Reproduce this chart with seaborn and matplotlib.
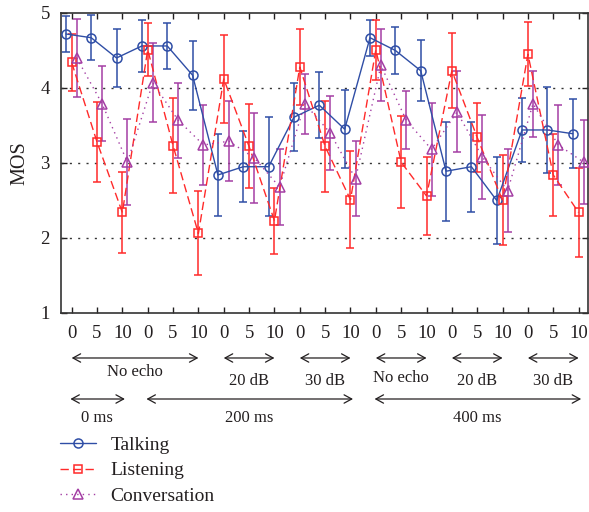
import numpy as np
import pandas as pd
import matplotlib
matplotlib.use('Agg')
import matplotlib.pyplot as plt
import matplotlib.transforms as mtransforms
import seaborn as sns

# MOS per test condition (21 conditions: 7 groups x {0, 5, 10})
talking = [4.72, 4.67, 4.40, 4.56, 4.56, 4.17, 2.84, 2.95, 2.95, 3.61, 3.77,
           3.45, 4.67, 4.50, 4.23, 2.89, 2.95, 2.50, 3.44, 3.44, 3.39]
talking_err = [0.24, 0.30, 0.39, 0.35, 0.31, 0.46, 0.55, 0.47, 0.66, 0.45, 0.44,
               0.52, 0.24, 0.31, 0.41, 0.66, 0.60, 0.58, 0.43, 0.57, 0.46]
listening = [4.34, 3.28, 2.34, 4.51, 3.23, 2.06, 4.12, 3.22, 2.23, 4.28, 3.22,
             2.51, 4.51, 3.01, 2.56, 4.23, 3.34, 2.50, 4.45, 2.84, 2.34]
listening_err = [0.38, 0.53, 0.54, 0.35, 0.63, 0.56, 0.59, 0.56, 0.44, 0.51, 0.61,
                 0.65, 0.40, 0.61, 0.52, 0.50, 0.46, 0.60, 0.43, 0.55, 0.59]
conversation = [4.40, 3.79, 3.01, 4.07, 3.57, 3.24, 3.29, 3.07, 2.68, 3.79, 3.40,
                2.79, 4.30, 3.57, 3.18, 3.68, 3.08, 2.63, 3.79, 3.24, 3.01]
conversation_err = [0.52, 0.50, 0.57, 0.53, 0.50, 0.53, 0.53, 0.60, 0.51, 0.40, 0.49,
                    0.50, 0.48, 0.39, 0.62, 0.54, 0.56, 0.55, 0.44, 0.53, 0.56]

tick_labels = ['0', '5', '10'] * 7

# echo level groups (label, first tick, last tick)
echo_groups = [('No echo', 0, 5), ('20 dB', 6, 8), ('30 dB', 9, 11),
               ('No echo', 12, 14), ('20 dB', 15, 17), ('30 dB', 18, 20)]
# delay groups
delay_groups = [('0 ms', 0, 2), ('200 ms', 3, 11), ('400 ms', 12, 20)]

sns.set_style('ticks')
plt.rcParams['font.family'] = ['Liberation Serif', 'DejaVu Serif']

ink = '#231f20'
series = [
    ('Talking', talking, talking_err, '#2f4ea6', 'o', '-', -0.23, 6.5),
    ('Listening', listening, listening_err, '#ff2a2a', 's', (0, (6, 3)), 0.0, 5.5),
    ('Conversation', conversation, conversation_err, '#a43ea4', '^', (0, (1, 3)), 0.2, 7),
]

fig = plt.figure(figsize=(5.89, 5.12), dpi=100)
ax = fig.add_axes([0.1036, 0.3887, 0.8947, 0.586])

idx = np.arange(len(tick_labels))
handles = []
for name, vals, err, color, marker, ls, off, ms in series:
    df = pd.DataFrame({'x': idx + off, 'mos': vals})
    ax.errorbar(df['x'], df['mos'], yerr=err, fmt='none', ecolor=color,
                elinewidth=1.1, capsize=3, capthick=1.1, zorder=2)
    sns.lineplot(data=df, x='x', y='mos', ax=ax, color=color, linestyle=ls,
                 linewidth=1.0, marker=marker, markersize=ms, markerfacecolor='none',
                 markeredgecolor=color, markeredgewidth=1.1, label=name, zorder=3)
    handles.append(ax.lines[-1])

ax.get_legend().remove()

ax.set_xlim(-0.42, 20.37)
ax.set_ylim(1, 5)
ax.set_xticks(idx)
ax.set_xticklabels(tick_labels)
ax.set_yticks([1, 2, 3, 4, 5])
ax.set_xlabel('')
ax.set_ylabel('MOS', fontsize=14.5, color=ink, labelpad=8)
ax.tick_params(direction='in', length=4, width=1, top=True, right=True,
               labelsize=13.5, colors=ink, pad=8)
ax.tick_params(axis='x', pad=8.5)
for s in ax.spines.values():
    s.set_linewidth(1.2)
    s.set_color('#333333')
    s.set_visible(True)
for yv in [2, 3, 4]:
    ax.axhline(yv, color='#333333', linewidth=1.0, linestyle=(0, (1.5, 4.5)), zorder=1)

# group annotations below the axis
trans = mtransforms.blended_transform_factory(ax.transData, fig.transFigure)
arrow = dict(arrowstyle='<->,head_length=0.55,head_width=0.3', color=ink,
             linewidth=0.9, shrinkA=0, shrinkB=0)
echo_text_y = [0.2734, 0.2559, 0.2559, 0.2617, 0.2559, 0.2559]
for (lab, a, b), ty in zip(echo_groups, echo_text_y):
    ax.annotate('', xy=(a, 0.3008), xytext=(b, 0.3008), xycoords=trans,
                textcoords=trans, arrowprops=arrow, annotation_clip=False)
    ax.text((a + b) / 2, ty, lab, transform=trans, ha='center', va='center',
            fontsize=12, color=ink)
for lab, a, b in delay_groups:
    ax.annotate('', xy=(a - 0.05, 0.2207), xytext=(b + 0.1, 0.2207), xycoords=trans,
                textcoords=trans, arrowprops=arrow, annotation_clip=False)
    ax.text((a + b) / 2, 0.1836, lab, transform=trans, ha='center', va='center',
            fontsize=12, color=ink)

fig.legend(handles=handles, labels=[s[0] for s in series], loc='upper left',
           bbox_to_anchor=(0.102, 0.1475), frameon=False, fontsize=14,
           handlelength=1.85, handletextpad=0.75, labelspacing=0.4,
           borderpad=0, borderaxespad=0, labelcolor=ink)

fig.savefig('out.png', dpi=100)
